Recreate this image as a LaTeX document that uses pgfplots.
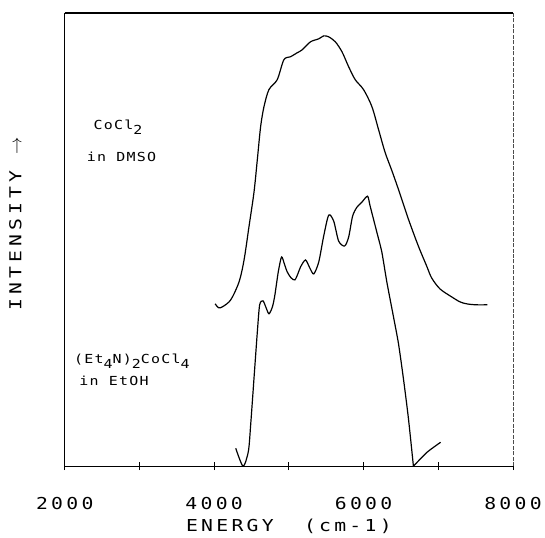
\documentclass[border=0pt]{standalone}
\usepackage{pgfplots}
\pgfplotsset{compat=1.18}
\usepackage{fontspec}
\setmainfont{DejaVu Sans Mono}
\newfontfamily\plotfont[FakeStretch=1.2,LetterSpace=20]{DejaVu Sans Mono}
\newfontfamily\yfont[FakeStretch=1.2,LetterSpace=25]{DejaVu Sans Mono}
\newfontfamily\annfam[FakeStretch=1.2,LetterSpace=10]{DejaVu Sans Mono}
\newcommand\lblfont{\fontsize{16.5}{20}\selectfont\plotfont}
\newcommand\ylblfont{\fontsize{16.5}{20}\selectfont\yfont}
\newcommand\annfont{\fontsize{12.5}{15}\selectfont\annfam}

\pgfplotstableread{
x y
4013 163
4060 159
4111 160
4222 167
4333 185
4400 207
4467 241
4533 275
4578 308
4622 341
4667 361
4733 378
4844 388
4933 408
5022 411
5111 415
5178 418
5289 426
5400 429
5466 432
5533 431
5622 426
5711 416
5800 401
5888 388
6000 378
6111 361
6200 338
6288 315
6377 297
6466 278
6600 248
6733 221
6844 201
6911 189
7022 178
7178 170
7289 165
7378 163
7500 162
7658 162
}\dmso

\pgfplotstableread{
x y
4289 18
4387 0
4458 15
4489 42
4533 88
4578 135
4609 162
4653 166
4690 160
4733 153
4780 160
4813 172
4858 195
4902 210
4940 203
4978 195
5030 189
5080 187
5120 193
5156 200
5222 207
5280 199
5333 193
5400 205
5466 231
5533 252
5600 246
5666 226
5746 221
5800 230
5853 251
5911 260
5977 265
6053 271
6088 261
6177 235
6244 215
6311 185
6400 150
6467 123
6533 88
6600 48
6667 0
}\etoh

\pgfplotstableread{
x y
6667 0
6850 14
7031 24
}\tail

\begin{document}
\begin{tikzpicture}
\begin{axis}[
  at={(0pt,0pt)}, anchor=south west,
  scale only axis, width=450pt, height=455pt,
  xmin=2000, xmax=8000, ymin=0, ymax=455,
  axis x line=bottom, axis y line=left,
  axis line style={-, line width=1.2pt},
  clip=false,
  xtick={2000,3000,4000,5000,6000,7000,8000},
  xticklabels={2000,,4000,,6000,,8000},
  ytick=\empty,
  xtick align=center,
  major tick length=8pt,
  every tick/.style={black, line width=1pt},
  xticklabel style={font=\lblfont, anchor=base, yshift=-39pt},
  xlabel={ENERGY\ \ (cm-1)},
  xlabel style={font=\lblfont, at={(axis description cs:0.5,0)}, anchor=base, yshift=-66pt},
  ylabel={INTENSITY\ $\rightarrow$},
  ylabel style={font=\ylblfont, at={(axis description cs:-0.11,0.535)}, anchor=center},
]
\addplot[black, line width=1.2pt, smooth, tension=0.5] table[x=x, y=y] {\dmso};
\addplot[black, line width=1.2pt, smooth, tension=0.45] table[x=x, y=y] {\etoh};
\addplot[black, line width=1.2pt, smooth, tension=0.4] table[x=x, y=y] {\tail};
\addplot[black, line width=1.2pt] coordinates {(2000,455) (8000,455)};
\addplot[black!70, line width=0.6pt, dash pattern=on 4pt off 1.5pt] coordinates {(8000,0) (8000,455)};

\node[anchor=base west, font=\annfont] at (axis cs:2340,338) {CoCl\raisebox{-5pt}{2}};
\node[anchor=base west, font=\annfont] at (axis cs:2250,306) {in DMSO};
\node[anchor=base west, font=\annfont] at (axis cs:2080,103) {(Et\raisebox{-5pt}{4}N)\raisebox{-5pt}{2}CoCl\raisebox{-5pt}{4}};
\node[anchor=base west, font=\annfont] at (axis cs:2150,81) {in EtOH};
\end{axis}
\path (-65pt,-71pt) rectangle (480pt,468pt);
\end{tikzpicture}
\end{document}
